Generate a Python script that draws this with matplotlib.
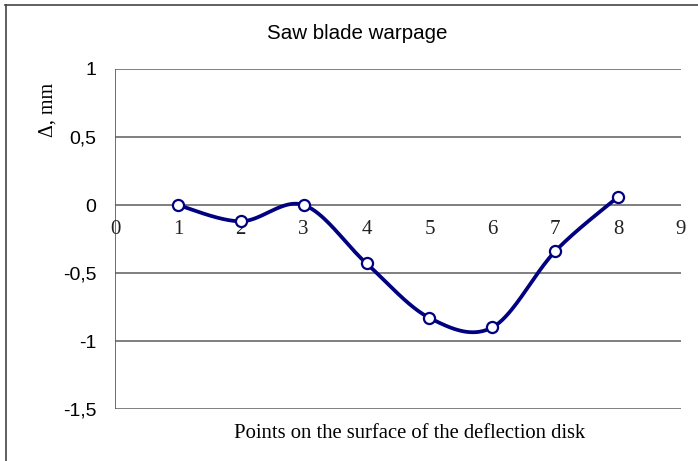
import numpy as np
import matplotlib
matplotlib.use("Agg")
import matplotlib.pyplot as plt
from matplotlib.lines import Line2D

points = [1, 2, 3, 4, 5, 6, 7, 8]
deflection = [0.0, -0.12, 0.0, -0.43, -0.83, -0.90, -0.34, 0.06]
yticks = [1, 0.5, 0, -0.5, -1, -1.5]
ytick_labels = ["1", "0,5", "0", "-0,5", "-1", "-1,5"]
xticks = [0, 1, 2, 3, 4, 5, 6, 7, 8, 9]

def smooth(xs, ys, n=40):
    xs = np.asarray(xs, float); ys = np.asarray(ys, float)
    px = np.concatenate([[xs[0]], xs, [xs[-1]]])
    py = np.concatenate([[ys[0]], ys, [ys[-1]]])
    ox, oy = [], []
    t = np.linspace(0, 1, n)
    for i in range(1, len(px) - 2):
        p0 = np.array([px[i], py[i]]); p3 = np.array([px[i+1], py[i+1]])
        c1 = p0 + (p3 - np.array([px[i-1], py[i-1]])) / 6.0
        c2 = p3 - (np.array([px[i+2], py[i+2]]) - p0) / 6.0
        for tt in t:
            b = ((1-tt)**3)*p0 + 3*((1-tt)**2)*tt*c1 + 3*(1-tt)*tt**2*c2 + tt**3*p3
            ox.append(b[0]); oy.append(b[1])
    return ox, oy

W, H = 698, 461
fig = plt.figure(figsize=(W/100, H/100), dpi=100)
ax = fig.add_axes([115/W, 1-409/H, 566/W, 340/H])
ax.set_xlim(0, 9)
ax.set_ylim(-1.5, 1)

for v in yticks:
    ax.axhline(v, color="#7f7f7f", lw=1.4, zorder=1)
ax.axvline(0, color="#555555", lw=1.2, zorder=1)
for s in ax.spines.values():
    s.set_visible(False)

ax.set_yticks(yticks)
ax.set_yticklabels(ytick_labels, fontfamily="Liberation Sans", fontsize=14)
ax.tick_params(axis="y", length=0, pad=13.5)
ax.set_xticks([])
for x in xticks:
    ax.text(x, -0.178, str(x), ha="center", va="center",
            fontfamily="Liberation Serif", fontsize=15, color="#222222")

sx, sy = smooth(points, deflection)
ax.plot(sx, sy, color="#000080", lw=2.7, zorder=3, solid_capstyle="round")
ax.plot(points, deflection, ls="none", marker="o", markersize=8,
        markerfacecolor="white", markeredgecolor="#000080", markeredgewidth=1.6, zorder=4)

fig.text(357/W, 1-33/H, "Saw blade warpage", ha="center", va="center",
         fontfamily="Liberation Sans", fontsize=14.8)
fig.text(410/W, 1-433/H, "Points on the surface of the deflection disk", ha="center", va="center",
         fontfamily="Liberation Serif", fontsize=14.9)
fig.text(48.5/W, 1-110/H, "Δ, mm", ha="center", va="center", rotation=90,
         fontfamily="Liberation Serif", fontsize=14.5)

fig.add_artist(Line2D([5.5/W, 5.5/W], [0, 1-5/H], transform=fig.transFigure, color="#444444", lw=1.2))
fig.add_artist(Line2D([5/W, 1], [1-5.5/H, 1-5.5/H], transform=fig.transFigure, color="#444444", lw=1.2))

fig.savefig("out.png", dpi=100)
